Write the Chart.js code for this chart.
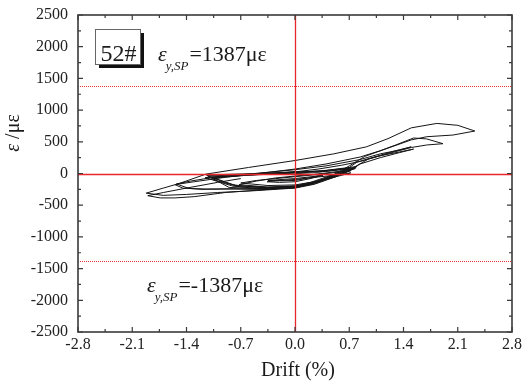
<!DOCTYPE html>
<html>
<head>
<meta charset="utf-8">
<script src="https://cdn.jsdelivr.net/npm/chart.js@4/dist/chart.umd.min.js"></script>
<style>
  html, body { margin: 0; padding: 0; background: #fff; }
  #c { display: block; }
</style>
</head>
<body>
<canvas id="c" width="526" height="385"></canvas>
<script>
// Specimen 52#: steel strain vs. storey drift under cyclic loading
const drift = [
  0,
  0.18, 0.35, 0.18, 0, -0.18, -0.35, -0.18, 0,
  0.18, 0.36, 0.18, 0, -0.2, -0.36, -0.2, 0,
  0.25, 0.5, 0.72, 0.5, 0.25, 0, -0.35, -0.7, -0.5, -0.25, 0,
  0.3, 0.55, 0.72, 0.5, 0.25, 0, -0.35, -0.72, -0.5, -0.25, 0,
  0.35, 0.6, 0.78, 0.6, 0.3, 0, -0.4, -0.8, -1.1, -0.8, -0.4, 0,
  0.4, 0.78, 0.55, 0.25, 0, -0.4, -0.8, -1.16, -0.8, -0.4, 0,
  0.4, 0.8, 0.6, 0.3, 0, -0.45, -0.85, -1.12, -0.8, -0.4, 0,
  0.3, 0.6, 0.75, 0.5, 0.2, 0, -0.3, -0.7, -1.0, -1.14, -0.9, -0.5, 0,
  0.35, 0.72, 0.5, 0.2, 0, -0.35, -0.75, -1.05, -0.7, -0.35, 0,
  0.3, 0.6, 0.84, 1.1, 1.35, 1.53, 1.35, 1.1, 0.84, 0.7, 0.5, 0.25, 0, -0.4, -0.8, -1.16, -1.37, -1.53, -1.35, -1.1, -0.7, -0.3, 0,
  0.4, 0.84, 1.1, 1.35, 1.5, 1.3, 1.05, 0.8, 0.65, 0.45, 0.2, 0, -0.4, -0.8, -1.2, -1.45, -1.55, -1.3, -0.9, -0.4, 0,
  0.4, 0.84, 1.1, 1.3, 1.53, 1.7, 1.91, 1.7, 1.5, 1.25, 0.95, 0.75, 0.55, 0.25, 0, -0.5, -1.0, -1.4, -1.7, -1.92, -1.7, -1.5, -1.15, -0.6, 0,
  0.5, 0.92, 1.2, 1.5, 1.83, 2.1, 2.32, 2.04, 1.7, 1.5, 1.2, 0.9, 0.7, 0.5, 0.25, 0, -0.5, -0.9, -1.3, -1.55, -1.74, -1.9, -1.7, -1.4, -1.0, -0.7
];
const strain = [
  0,
  -10, -25, -70, -110, -115, -110, -95, -80,
  -55, -30, -85, -130, -140, -130, -110, -95,
  -60, -30, 10, -60, -130, -180, -190, -150, -110, -80, -50,
  -15, 20, 45, -40, -140, -200, -215, -175, -120, -70, -40,
  0, 40, 80, 0, -130, -210, -225, -180, -55, -35, -10, 5,
  35, 95, -20, -150, -225, -245, -200, -65, -40, -15, 15,
  50, 110, 10, -120, -215, -240, -220, -40, -25, 0, 30,
  20, 60, 70, -40, -150, -205, -225, -210, -120, -30, -15, 0, 20,
  40, 90, -15, -140, -195, -215, -195, -70, -35, -5, 25,
  70, 130, 190, 280, 340, 385, 330, 250, 150, 40, -60, -160, -225, -250, -245, -245, -235, -165, -120, -70, -20, 25, 60,
  120, 220, 310, 370, 420, 360, 270, 180, 50, -60, -170, -220, -245, -240, -250, -230, -175, -130, -60, 10, 70,
  150, 260, 360, 450, 560, 545, 470, 450, 410, 330, 230, 90, -40, -170, -230, -270, -300, -330, -345, -310, -230, -160, -10, 95, 205,
  310, 420, 550, 720, 790, 760, 670, 607, 580, 530, 400, 270, 120, -20, -140, -215, -265, -300, -365, -385, -385, -350, -300, -230, -140, -80
];

// Axis ticks
const xTicks = [-2.8, -2.1, -1.4, -0.7, 0, 0.7, 1.4, 2.1, 2.8];
const yTicks = [-2500, -2000, -1500, -1000, -500, 0, 500, 1000, 1500, 2000, 2500];

// Yield strain of the steel plate (με)
const yieldStrain = 1387;
const specimen = '52#';

const SERIF = '"Liberation Serif", "Times New Roman", serif';

function midpoints(arr) {
  const out = [];
  for (let i = 0; i < arr.length - 1; i++) out.push((arr[i] + arr[i + 1]) / 2);
  return out;
}

const decorations = {
  id: 'decorations',
  afterDatasetsDraw(chart) {
    const { ctx, chartArea: a, scales: { x, y } } = chart;
    ctx.save();
    ctx.beginPath();
    ctx.rect(a.left, a.top, a.right - a.left, a.bottom - a.top);
    ctx.clip();
    // zero axes
    ctx.strokeStyle = '#e8262b';
    ctx.lineWidth = 1.3;
    const px0 = Math.round(x.getPixelForValue(0)) + 0.5;
    const py0 = Math.round(y.getPixelForValue(0)) + 0.5;
    ctx.beginPath();
    ctx.moveTo(px0, a.top); ctx.lineTo(px0, a.bottom);
    ctx.moveTo(a.left, py0); ctx.lineTo(a.right, py0);
    ctx.stroke();
    // yield strain limits
    ctx.setLineDash([1, 1]);
    ctx.lineWidth = 1;
    ctx.strokeStyle = '#e8343a';
    [yieldStrain, -yieldStrain].forEach(v => {
      const py = Math.round(y.getPixelForValue(v)) + 0.5;
      ctx.beginPath();
      ctx.moveTo(a.left, py); ctx.lineTo(a.right, py);
      ctx.stroke();
    });
    ctx.restore();
  },
  afterDraw(chart) {
    const { ctx, chartArea: a, scales: { x, y } } = chart;
    ctx.save();
    // frame
    ctx.strokeStyle = '#3a3a3a';
    ctx.lineWidth = 1.6;
    ctx.strokeRect(a.left, a.top, a.right - a.left, a.bottom - a.top);
    // inward ticks on all four sides
    ctx.lineWidth = 1.2;
    ctx.beginPath();
    const tickX = (vals, len) => vals.forEach(v => {
      const p = x.getPixelForValue(v);
      ctx.moveTo(p, a.bottom); ctx.lineTo(p, a.bottom - len);
      ctx.moveTo(p, a.top); ctx.lineTo(p, a.top + len);
    });
    const tickY = (vals, len) => vals.forEach(v => {
      const p = y.getPixelForValue(v);
      ctx.moveTo(a.left, p); ctx.lineTo(a.left + len, p);
      ctx.moveTo(a.right, p); ctx.lineTo(a.right - len, p);
    });
    tickX(xTicks, 5); tickX(midpoints(xTicks), 3);
    tickY(yTicks, 5); tickY(midpoints(yTicks), 3);
    ctx.stroke();

    // specimen tag with drop shadow
    const bx = a.left + 17, by = a.top + 14, bw = 45, bh = 35;
    ctx.fillStyle = '#111';
    ctx.fillRect(bx + 4, by + 4, bw, bh);
    ctx.fillStyle = '#fff';
    ctx.fillRect(bx, by, bw, bh);
    ctx.strokeStyle = '#666';
    ctx.lineWidth = 1;
    ctx.strokeRect(bx + 0.5, by + 0.5, bw, bh);
    ctx.fillStyle = '#1a1a1a';
    ctx.font = '24px ' + SERIF;
    ctx.textBaseline = 'alphabetic';
    ctx.textAlign = 'center';
    ctx.fillText(specimen, bx + bw / 2 + 1, by + bh - 3);

    // yield strain labels
    ctx.textAlign = 'left';
    const yieldLabel = (x0, base, value) => {
      ctx.font = 'italic 22px ' + SERIF;
      ctx.fillText('ε', x0, base);
      const w1 = ctx.measureText('ε').width;
      ctx.font = 'italic 13px ' + SERIF;
      ctx.fillText('y,SP', x0 + w1 - 1, base + 9);
      const w2 = ctx.measureText('y,SP').width;
      ctx.font = '22px ' + SERIF;
      ctx.fillText('=' + value + 'με', x0 + w1 + w2, base);
    };
    yieldLabel(a.left + 80, a.top + 46, String(yieldStrain));
    yieldLabel(a.left + 69, a.top + 277, String(-yieldStrain));

    // axis titles
    ctx.fillStyle = '#1a1a1a';
    ctx.font = '20px ' + SERIF;
    ctx.textAlign = 'center';
    ctx.fillText('Drift (%)', (a.left + a.right) / 2 + 3, 376);

    ctx.translate(19, 133);
    ctx.rotate(-Math.PI / 2);
    ctx.textAlign = 'left';
    ctx.font = 'italic 20px ' + SERIF;
    const we = ctx.measureText('ε').width;
    ctx.font = '20px ' + SERIF;
    const rest = ' /με';
    const wr = ctx.measureText(rest).width;
    const start = -(we + wr) / 2;
    ctx.font = 'italic 20px ' + SERIF;
    ctx.fillText('ε', start, 0);
    ctx.font = '20px ' + SERIF;
    ctx.fillText(rest, start + we, 0);
    ctx.restore();
  }
};

new Chart(document.getElementById('c'), {
  type: 'scatter',
  data: {
    datasets: [{
      data: drift.map((d, i) => ({ x: d, y: strain[i] })),
      showLine: true,
      borderColor: '#151515',
      borderWidth: 1,
      pointRadius: 0,
      tension: 0,
      fill: false
    }]
  },
  options: {
    responsive: false,
    animation: false,
    layout: { padding: { left: 0, right: 14, top: 15, bottom: 0 } },
    plugins: { legend: { display: false }, tooltip: { enabled: false } },
    scales: {
      x: {
        type: 'linear',
        min: -2.8,
        max: 2.8,
        afterBuildTicks: s => { s.ticks = xTicks.map(v => ({ value: v })); },
        afterFit: s => { s.height = 53; },
        grid: { display: false, drawTicks: false },
        border: { display: false },
        ticks: {
          padding: 3,
          maxRotation: 0,
          color: '#222',
          font: { family: SERIF, size: 16 },
          callback: v => Number(v).toFixed(1)
        }
      },
      y: {
        type: 'linear',
        min: -2500,
        max: 2500,
        afterBuildTicks: s => { s.ticks = yTicks.map(v => ({ value: v })); },
        afterFit: s => { s.width = 78; s.paddingTop = 0; s.paddingBottom = 0; },
        grid: { display: false, drawTicks: false },
        border: { display: false },
        ticks: {
          padding: 10,
          color: '#222',
          font: { family: SERIF, size: 16 },
          callback: v => String(v)
        }
      }
    }
  },
  plugins: [decorations]
});
</script>
</body>
</html>
